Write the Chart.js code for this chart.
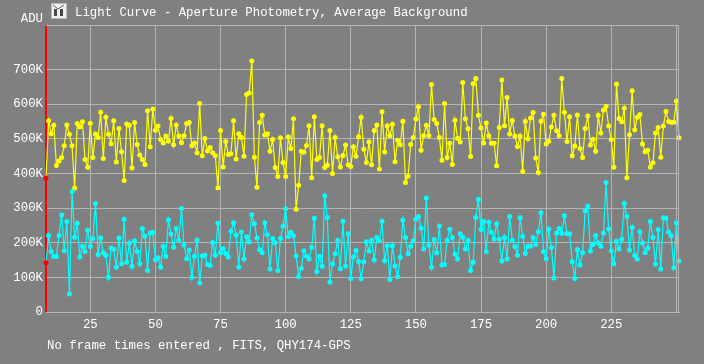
<!DOCTYPE html>
<html lang="en">
<head>
    <meta charset="UTF-8">
    <title>Light Curve</title>
    <style>
        html, body { margin: 0; padding: 0; background-color: #808080; overflow: hidden; }
        canvas { display: block; }
    </style>
</head>
<body>
    <canvas id="curve" width="704" height="364"></canvas>

    <script src="https://cdn.jsdelivr.net/npm/chart.js"></script>
    <script>
        const firstFrame = 8;
        const lastFrame = 251;
        const topValue = 828.7;
        const xTicks = [25, 50, 75, 100, 125, 150, 175, 200, 225, 250];
        const xTickLabels = ['25', '50', '75', '100', '125', '150', '175', '200', '225', ''];
        const yTicks = [0, 100, 200, 300, 400, 500, 600, 700];
        const yTickLabels = ['0', '100K', '200K', '300K', '400K', '500K', '600K', '700K'];
        const titleText = 'Light Curve - Aperture Photometry, Average Background';
        const footerText = 'No frame times entered , FITS, QHY174-GPS';
        const unitText = 'ADU';

        // values in thousands of ADU, one per frame from firstFrame on
        const target = [
            386, 552, 515, 539, 423, 436, 446, 480, 540, 513, 480, 358, 544, 535, 549, 440, 418, 545, 446, 514,
            504, 577, 443, 562, 513, 486, 552, 433, 530, 463, 380, 543, 539, 416, 547, 484, 453, 440, 426, 581,
            477, 586, 525, 537, 498, 488, 508, 493, 559, 483, 540, 508, 489, 509, 544, 547, 480, 488, 460, 602,
            451, 501, 465, 475, 460, 451, 359, 524, 419, 492, 455, 457, 552, 442, 515, 504, 450, 628, 632, 725,
            447, 360, 547, 568, 511, 515, 464, 498, 417, 391, 503, 432, 391, 505, 472, 558, 297, 366, 464, 461,
            481, 538, 388, 564, 440, 446, 538, 417, 424, 524, 400, 504, 448, 419, 452, 482, 425, 420, 477, 450,
            506, 562, 470, 432, 491, 425, 524, 540, 413, 578, 462, 538, 509, 542, 434, 496, 483, 551, 374, 392,
            484, 504, 557, 593, 467, 509, 539, 509, 657, 556, 544, 504, 438, 602, 446, 487, 426, 554, 502, 491,
            663, 558, 529, 449, 659, 674, 568, 531, 488, 546, 509, 487, 487, 422, 533, 670, 538, 619, 514, 553,
            508, 478, 508, 406, 550, 500, 560, 576, 445, 403, 551, 571, 485, 493, 534, 568, 523, 509, 674, 577,
            492, 564, 451, 479, 569, 472, 446, 530, 566, 482, 499, 464, 568, 517, 583, 594, 537, 498, 418, 658,
            559, 549, 588, 388, 512, 639, 526, 562, 570, 485, 463, 467, 419, 431, 517, 533, 447, 537, 579, 550,
            548, 548, 609, 503
        ];
        const comparison = [
            142, 221, 175, 160, 160, 221, 280, 177, 261, 52, 348, 216, 256, 159, 190, 175, 236, 189, 212, 313,
            166, 214, 171, 164, 100, 185, 181, 130, 214, 139, 268, 144, 199, 132, 206, 175, 139, 241, 219, 120,
            228, 230, 151, 157, 129, 190, 161, 266, 225, 187, 241, 207, 299, 193, 154, 179, 100, 161, 207, 84,
            162, 164, 137, 134, 201, 164, 256, 171, 183, 169, 159, 233, 258, 222, 129, 231, 153, 217, 202, 281,
            255, 214, 180, 171, 257, 223, 124, 212, 200, 120, 212, 248, 298, 217, 230, 220, 162, 102, 126, 177,
            162, 153, 186, 271, 117, 161, 132, 336, 273, 86, 139, 168, 207, 125, 262, 132, 226, 97, 159, 178,
            146, 96, 145, 203, 176, 207, 151, 215, 206, 262, 148, 191, 94, 191, 133, 102, 158, 266, 215, 168,
            190, 206, 268, 276, 242, 182, 329, 193, 129, 209, 171, 248, 136, 137, 207, 239, 215, 167, 153, 226,
            216, 182, 207, 120, 144, 273, 325, 238, 261, 175, 259, 230, 211, 255, 210, 147, 215, 153, 276, 207,
            189, 164, 272, 218, 169, 190, 190, 215, 195, 232, 286, 175, 154, 239, 186, 98, 228, 241, 227, 278,
            226, 225, 145, 97, 180, 136, 171, 292, 306, 176, 195, 221, 200, 190, 228, 374, 240, 177, 139, 204,
            182, 210, 313, 276, 179, 244, 163, 153, 232, 199, 171, 184, 261, 215, 138, 238, 124, 272, 271, 231,
            220, 128, 257, 147
        ];

        const toPoints = values => values.map((v, i) => ({ x: firstFrame + i, y: v }));
        const firstRed = color => ctx => (ctx.dataIndex === 0 ? '#ff0000' : color);

        const font = { family: '"Liberation Mono", monospace', size: 12.35 };
        const textColor = '#ffffff';
        const gridColor = '#b4b4b4';

        // title, footer, unit label, icon and the frame on the right
        const extras = {
            id: 'extras',
            afterDraw(chart) {
                const c = chart.ctx;
                const area = chart.chartArea;
                c.save();
                c.strokeStyle = gridColor;
                c.lineWidth = 1;
                c.beginPath();
                c.moveTo(area.left, area.top + 0.5);
                c.lineTo(area.right, area.top + 0.5);
                c.moveTo(area.right - 0.5, area.top);
                c.lineTo(area.right - 0.5, area.bottom);
                c.stroke();

                c.fillStyle = '#b8b8b8';
                c.fillRect(51, 3, 16, 16);
                c.fillStyle = '#f0f0f0';
                c.fillRect(52, 4, 14, 14);
                c.fillStyle = '#484848';
                c.fillRect(54, 9, 3, 7);
                c.fillRect(60, 9, 3, 7);
                c.strokeStyle = '#606060';
                c.beginPath();
                c.moveTo(53, 5);
                c.lineTo(58, 9);
                c.lineTo(64, 5);
                c.stroke();

                c.font = font.size + 'px ' + font.family;
                c.fillStyle = textColor;
                c.textBaseline = 'middle';
                c.textAlign = 'left';
                c.fillText(titleText, 75, 12.5);
                c.fillText(footerText, 47, 346);
                c.textAlign = 'right';
                c.fillText(unitText, 43, 18.5);
                c.restore();
            }
        };

        new Chart(document.getElementById('curve'), {
            type: 'line',
            data: {
                datasets: [
                    {
                        label: 'Cursor',
                        order: 3,
                        clip: false,
                        data: [{ x: firstFrame, y: 0 }, { x: firstFrame, y: topValue }],
                        borderColor: '#ff0000',
                        borderWidth: 2,
                        pointRadius: 0
                    },
                    {
                        label: 'Target',
                        order: 2,
                        clip: false,
                        data: toPoints(target),
                        borderColor: '#ffff00',
                        borderWidth: 1.2,
                        pointRadius: 2.5,
                        pointBorderWidth: 0,
                        pointBackgroundColor: firstRed('#ffff00')
                    },
                    {
                        label: 'Comparison',
                        order: 1,
                        clip: false,
                        data: toPoints(comparison),
                        borderColor: '#00ffff',
                        borderWidth: 1.2,
                        pointRadius: 2.5,
                        pointBorderWidth: 0,
                        pointBackgroundColor: firstRed('#00ffff')
                    }
                ]
            },
            options: {
                responsive: false,
                animation: false,
                layout: { padding: { top: 25, right: 25, bottom: 0, left: 0 } },
                plugins: { legend: { display: false }, tooltip: { enabled: false } },
                scales: {
                    x: {
                        type: 'linear',
                        min: firstFrame,
                        max: lastFrame,
                        afterFit: scale => { scale.height = 52; },
                        afterBuildTicks: scale => { scale.ticks = xTicks.map(v => ({ value: v })); },
                        grid: { color: gridColor, drawTicks: false },
                        border: { color: gridColor },
                        ticks: {
                            font: font,
                            color: textColor,
                            padding: 5,
                            maxRotation: 0,
                            autoSkip: false,
                            callback: value => xTickLabels[xTicks.indexOf(value)]
                        }
                    },
                    y: {
                        min: 0,
                        max: topValue,
                        afterFit: scale => { scale.width = 46; },
                        afterBuildTicks: scale => { scale.ticks = yTicks.map(v => ({ value: v })); },
                        grid: { color: gridColor, drawTicks: false },
                        border: { display: false },
                        ticks: {
                            font: font,
                            color: textColor,
                            padding: 3,
                            autoSkip: false,
                            callback: value => yTickLabels[yTicks.indexOf(value)]
                        }
                    }
                }
            },
            plugins: [extras]
        });
    </script>
</body>
</html>
